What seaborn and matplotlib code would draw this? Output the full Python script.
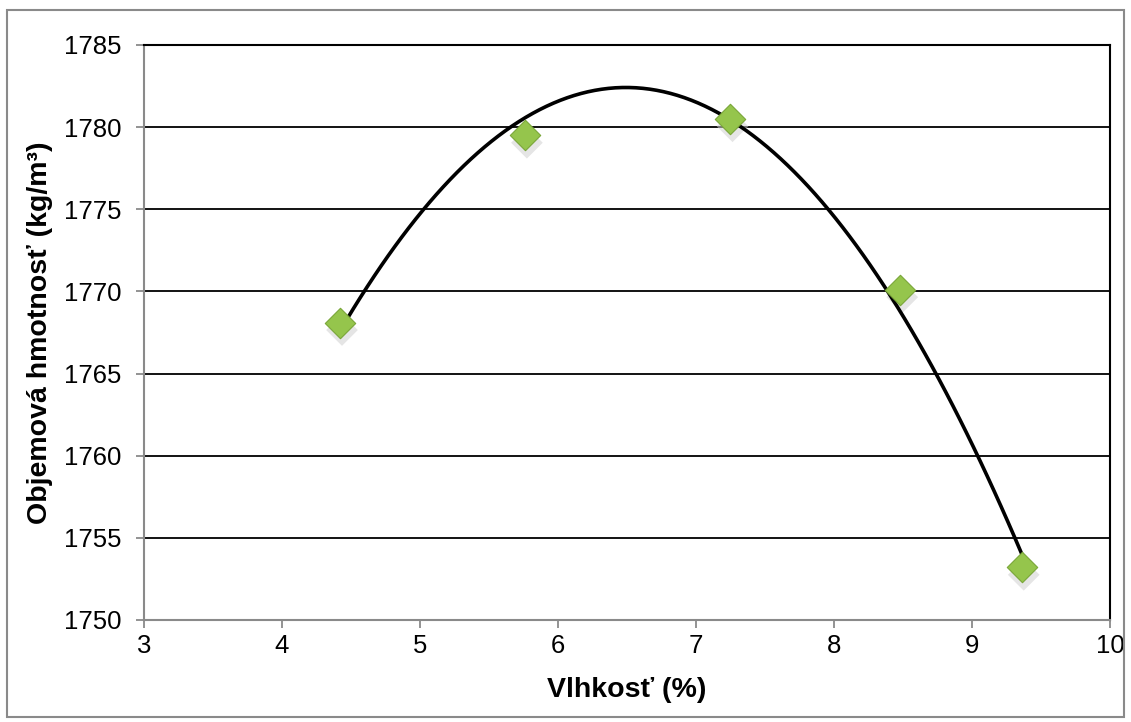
import matplotlib
matplotlib.use("Agg")
import matplotlib.pyplot as plt
import seaborn as sns
import pandas as pd
from matplotlib.patches import Rectangle

moisture = [4.42, 5.76, 7.25, 8.48, 9.36]
density = [1768.1, 1779.5, 1780.5, 1770.1, 1753.2]
xlabel = "Vlhkosť (%)"
ylabel = "Objemová hmotnosť (kg/m³)"

sns.set_theme(style="white")
plt.rcParams['font.family'] = ['Liberation Sans', 'DejaVu Sans']

df = pd.DataFrame({"x": moisture, "y": density})

fig = plt.figure(figsize=(11.31, 7.22), dpi=100)
ax = fig.add_axes([0.1273, 0.1413, 0.9814 - 0.1273, 0.9377 - 0.1413])

ax.set_axisbelow(True)
ax.yaxis.grid(True, color="black", lw=1.3)
ax.xaxis.grid(False)

# polynomial (order 2) trendline of the data
sns.regplot(data=df, x="x", y="y", order=2, ci=None, scatter=False, truncate=True,
            line_kws=dict(color="black", lw=2.6, zorder=3), ax=ax)

# soft shadow under markers
sns.scatterplot(x=[m + 0.015 for m in moisture], y=[d - 0.45 for d in density], marker="D",
                s=260, color="#d0d0d0", edgecolor="none", alpha=0.55, zorder=2, ax=ax, legend=False)
sns.scatterplot(data=df, x="x", y="y", marker="D", s=240, color="#95c54c",
                edgecolor="#79a638", linewidth=0.8, zorder=4, ax=ax, legend=False)

ax.set_xlim(3, 10)
ax.set_ylim(1750, 1785)
ax.set_xticks(range(3, 11))
ax.set_yticks(range(1750, 1786, 5))

for s in ["top", "right"]:
    ax.spines[s].set_color("black")
    ax.spines[s].set_linewidth(1.5)
for s in ["left", "bottom"]:
    ax.spines[s].set_color("#8a8a8a")
    ax.spines[s].set_linewidth(1.5)

ax.tick_params(axis="both", which="major", direction="out", length=6, width=1.3,
               color="#8a8a8a", labelsize=18.5, labelcolor="black")
ax.tick_params(axis="y", pad=10, left=True)
ax.tick_params(axis="x", pad=4, bottom=True)

ax.set_xlabel(xlabel, fontsize=20.5, fontweight="bold", labelpad=14, color="black")
ax.set_ylabel(ylabel, fontsize=20.5, fontweight="bold", labelpad=8, color="black")

fig.patches.append(Rectangle((7 / 1131, 1 - 717 / 722), (1124 - 7) / 1131, (717 - 10) / 722,
                             transform=fig.transFigure, fill=False, edgecolor="#8a8a8a", lw=1.5))

fig.savefig("out.png", dpi=100)
